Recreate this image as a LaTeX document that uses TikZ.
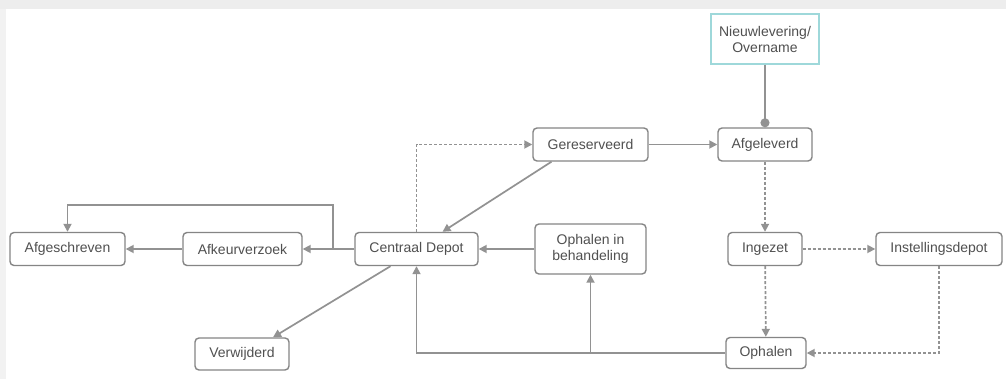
\documentclass[tikz,border=0pt]{standalone}
\usepackage{fontspec}
\setmainfont{Liberation Sans}
\usetikzlibrary{arrows.meta}
\definecolor{ln}{HTML}{929292}
\definecolor{bd}{HTML}{858585}
\definecolor{tx}{HTML}{505050}
\definecolor{tealbd}{HTML}{9ED8DA}
\begin{document}
\begin{tikzpicture}[x=1pt,y=1pt,
  box/.style={draw=bd, line width=1.4pt, rounded corners=4pt, fill=white, text=tx,
    font=\fontsize{14}{16}\selectfont, inner sep=0pt, minimum height=33pt, align=center},
  arr/.style={draw=ln, line width=1.7pt, -{Triangle[length=8pt,width=8pt]}},
  dsh/.style={dash pattern=on 3pt off 2pt}]
\useasboundingbox (0,0) rectangle (1006,-379);
\fill[white] (0,0) rectangle (1006,-379);
\fill[black!7] (0,0) rectangle (1006,-9);
\fill[black!5] (0,-9) rectangle (6,-379);

\node[box, draw=tealbd, rounded corners=0pt, minimum width=108pt, minimum height=50pt] (nieuw) at (765,-39) {Nieuwlevering/\\Overname};
\node[box, minimum width=115pt] (geres) at (590.5,-144.5) {Gereserveerd};
\node[box, minimum width=94pt] (afgel) at (765,-144.5) {Afgeleverd};
\node[box, minimum width=115pt] (afgesch) at (67.5,-249) {Afgeschreven};
\node[box, minimum width=119pt] (afkeur) at (242.5,-249) {Afkeurverzoek};
\node[box, minimum width=123pt] (centraal) at (416.5,-249) {Centraal Depot};
\node[box, minimum width=111pt, minimum height=50pt] (ophbeh) at (590.5,-249) {Ophalen in\\behandeling};
\node[box, minimum width=74pt] (ingezet) at (765,-249) {Ingezet};
\node[box, minimum width=126pt] (instel) at (939,-249) {Instellingsdepot};
\node[box, minimum width=94pt, minimum height=32pt] (verw) at (242,-354) {Verwijderd};
\node[box, minimum width=80pt, minimum height=31pt] (ophalen) at (766,-353) {Ophalen};

\draw[draw=ln, line width=1.7pt, -{Circle[length=9pt,width=9pt]}] (nieuw) -- (afgel);
\draw[arr] (geres) -- (afgel);
\draw[arr, dsh] (centraal.north) |- (geres.west);
\draw[arr] ([xshift=-39pt]geres.south) -- ([xshift=26pt]centraal.north);
\draw[arr, dsh] (afgel) -- (ingezet);
\draw[arr, dsh] (ingezet) -- (instel);
\draw[arr, dsh] (ingezet) -- (ophalen);
\draw[arr, dsh] (instel.south) |- (ophalen.east);
\draw[arr] (ophalen.west) -| (centraal.south);
\coordinate (br) at (ophbeh.south |- ophalen.west);
\draw[arr] (br) -- (ophbeh.south);
\draw[arr] (ophbeh) -- (centraal);
\draw[arr] (centraal) -- (afkeur);
\draw[arr] (afkeur) -- (afgesch);
\coordinate (lp) at (333,-249);
\coordinate (lt) at (333,-205);
\draw[arr] (lp) -- (lt) -| (afgesch.north);
\draw[arr] ([xshift=-26pt]centraal.south) -- ([xshift=31pt]verw.north);
\end{tikzpicture}
\end{document}
